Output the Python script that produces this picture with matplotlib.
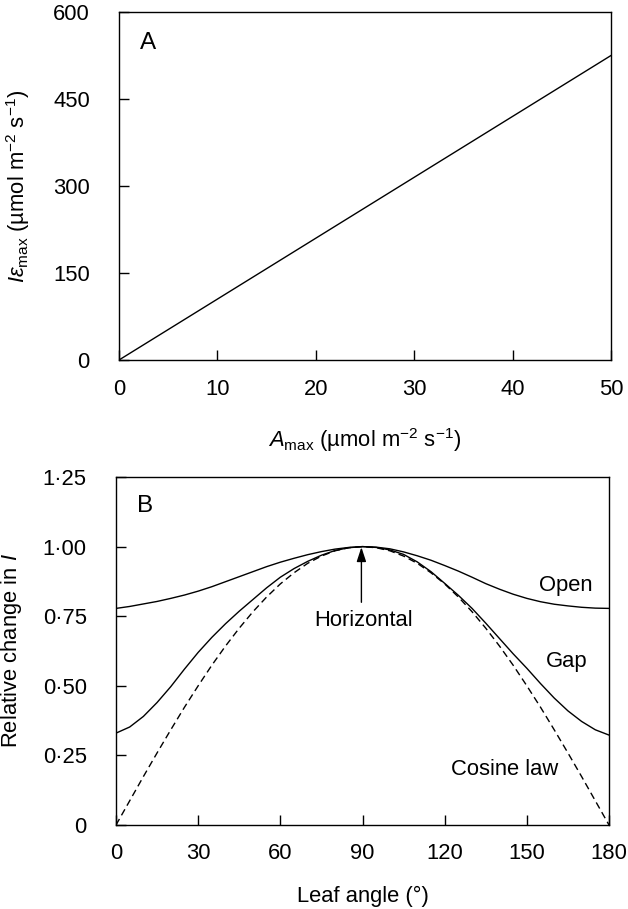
import numpy as np
import matplotlib.pyplot as plt

# Set graph parameters.
plt.rcParams['font.family'] = 'Liberation Sans'
plt.rcParams['mathtext.fontset'] = 'custom'
plt.rcParams['mathtext.rm'] = 'Liberation Sans'
plt.rcParams['mathtext.it'] = 'Liberation Sans:italic'
plt.rcParams['font.size'] = 15.8
plt.rcParams['xtick.direction'] = 'in'
plt.rcParams['ytick.direction'] = 'in'
plt.rcParams['xtick.major.size'] = 7
plt.rcParams['ytick.major.size'] = 7
plt.rcParams['xtick.major.width'] = 1.0
plt.rcParams['ytick.major.width'] = 1.0
plt.rcParams['axes.linewidth'] = 1.0

# Panel A data.
a_max = [0, 50]
i_eps_max = [0, 525]

# Panel B data (relative change in I against leaf angle).
leaf_angle = [0, 5, 10, 15, 20, 25, 30, 35, 40, 45, 50, 55, 60, 65, 70, 75, 80, 85, 90,
              95, 100, 105, 110, 115, 120, 125, 130, 135, 140, 145, 150, 155, 160, 165, 170, 175, 180]
open_rel = [0.778, 0.785, 0.794, 0.803, 0.814, 0.826, 0.840, 0.856, 0.874, 0.892,
            0.910, 0.928, 0.944, 0.958, 0.971, 0.982, 0.991, 0.997, 1.000,
            0.998, 0.992, 0.981, 0.967, 0.951, 0.932, 0.912, 0.890, 0.867, 0.847,
            0.829, 0.814, 0.802, 0.793, 0.787, 0.782, 0.779, 0.778]
gap_rel = [0.330, 0.352, 0.390, 0.440, 0.497, 0.560, 0.620, 0.674, 0.723, 0.768,
           0.810, 0.852, 0.890, 0.921, 0.947, 0.969, 0.986, 0.996, 1.000,
           0.997, 0.988, 0.972, 0.945, 0.910, 0.868, 0.825, 0.778, 0.725, 0.670,
           0.615, 0.563, 0.508, 0.456, 0.410, 0.372, 0.342, 0.323]
cosine_rel = [0.000, 0.087, 0.174, 0.259, 0.342, 0.423, 0.500, 0.574, 0.643, 0.707,
              0.766, 0.819, 0.866, 0.906, 0.940, 0.966, 0.985, 0.996, 1.000,
              0.996, 0.985, 0.966, 0.940, 0.906, 0.866, 0.819, 0.766, 0.707, 0.643,
              0.574, 0.500, 0.423, 0.342, 0.259, 0.174, 0.087, 0.000]

fig = plt.figure(figsize=(6.28, 9.09), dpi=100)
W, H = 628, 909

# Panel A.
ax1 = fig.add_axes([119 / W, 1 - 360 / H, (611 - 119) / W, (360 - 12) / H])
ax1.plot(a_max, i_eps_max, color='black', lw=1.0)
ax1.set_xlim(0, 50)
ax1.set_ylim(0, 600)
ax1.set_xticks([0, 10, 20, 30, 40, 50])
ax1.set_yticks([0, 150, 300, 450, 600])
ax1.tick_params(axis='x', top=False, pad=14)
ax1.tick_params(axis='y', right=False, pad=21)
ax1.set_xlabel(r'$A_{\rm max}$ (µmol m$^{-2}$ s$^{-1}$)')
ax1.set_ylabel(r'$I\varepsilon_{\rm max}$ (µmol m$^{-2}$ s$^{-1}$)')
ax1.xaxis.set_label_coords(0.5, -0.19)
ax1.yaxis.set_label_coords(-0.177, 0.5)
ax1.text(0.043, 0.911, 'A', transform=ax1.transAxes, fontsize=17.5, ha='left', va='center')

# Panel B.
ax2 = fig.add_axes([116 / W, 1 - 825 / H, (609 - 116) / W, (825 - 477) / H])
ax2.plot(leaf_angle, open_rel, color='black', lw=1.0)
ax2.plot(leaf_angle, gap_rel, color='black', lw=1.0)
ax2.plot(leaf_angle, cosine_rel, color='black', lw=1.0, ls=(0, (5, 3)))
ax2.set_xlim(0, 180)
ax2.set_ylim(0, 1.25)
ax2.set_xticks([0, 30, 60, 90, 120, 150, 180])
ax2.set_yticks([0, 0.25, 0.5, 0.75, 1.0, 1.25])
ax2.set_yticklabels(['0', '0·25', '0·50', '0·75', '1·00', '1·25'])
ax2.tick_params(axis='x', top=False, pad=13)
ax2.tick_params(axis='y', right=False, pad=21)
ax2.set_xlabel('Leaf angle (°)')
ax2.set_ylabel(r'Relative change in $I$')
ax2.xaxis.set_label_coords(0.5, -0.175)
ax2.yaxis.set_label_coords(-0.187, 0.5)
ax2.text(0.043, 0.917, 'B', transform=ax2.transAxes, fontsize=17.5, ha='left', va='center')
ax2.text(164.3, 0.862, 'Open', ha='center', va='center')
ax2.text(164.7, 0.587, 'Gap', ha='center', va='center')
ax2.text(141.8, 0.198, 'Cosine law', ha='center', va='center')
ax2.text(90.4, 0.733, 'Horizontal', ha='center', va='center')
ax2.annotate('', xy=(89.6, 0.998), xytext=(89.6, 0.80),
             arrowprops=dict(arrowstyle='-|>,head_length=0.55,head_width=0.18',
                             color='black', lw=1.0, shrinkA=0, shrinkB=0))

fig.savefig('out.png', dpi=100)
